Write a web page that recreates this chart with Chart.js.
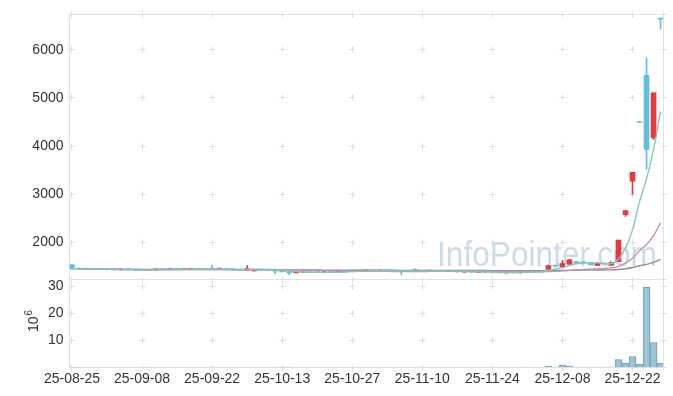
<!DOCTYPE html>
<html><head><meta charset="utf-8">
<script src="https://cdn.jsdelivr.net/npm/chart.js@4/dist/chart.umd.min.js"></script>
<style>html,body{margin:0;padding:0;background:#fff;}#wrap{width:673px;height:396px;}</style>
</head><body><div id="wrap"><canvas id="c" width="673" height="396"></canvas></div>
<script>
const dates = [
'25-08-25','25-08-26','25-08-27','25-08-28','25-08-29',
'25-09-01','25-09-02','25-09-03','25-09-04','25-09-05',
'25-09-08','25-09-09','25-09-10','25-09-11','25-09-12',
'25-09-15','25-09-16','25-09-17','25-09-18','25-09-19',
'25-09-22','25-09-23','25-09-24','25-09-25','25-09-26',
'25-09-29','25-09-30','25-10-01','25-10-02','25-10-10',
'25-10-13','25-10-14','25-10-15','25-10-16','25-10-17',
'25-10-20','25-10-21','25-10-22','25-10-23','25-10-24',
'25-10-27','25-10-28','25-10-29','25-10-30','25-10-31',
'25-11-03','25-11-04','25-11-05','25-11-06','25-11-07',
'25-11-10','25-11-11','25-11-12','25-11-13','25-11-14',
'25-11-17','25-11-18','25-11-19','25-11-20','25-11-21',
'25-11-24','25-11-25','25-11-26','25-11-27','25-11-28',
'25-12-01','25-12-02','25-12-03','25-12-04','25-12-05',
'25-12-08','25-12-09','25-12-10','25-12-11','25-12-12',
'25-12-15','25-12-16','25-12-17','25-12-18','25-12-19',
'25-12-22','25-12-23','25-12-24','25-12-26','25-12-29'];

const opens = [
1525,1448,1440,1436,1432, 1436,1424,1420,1428,1420,
1418,1410,1420,1436,1428, 1432,1430,1434,1438,1434,
1446,1436,1438,1424,1420, 1412,1398,1430,1416,1408,
1396,1384,1360,1366,1380, 1372,1364,1376,1370,1380,
1402,1396,1400,1404,1398, 1408,1402,1398,1390,1430,
1390,1394,1392,1388,1394, 1388,1376,1386,1370,1382,
1368,1364,1358,1366,1364, 1372,1396,1384,1430,1508,
1490,1540,1596,1572,1572, 1512,1548,1520,1594,2570,
3270,4490,5470,4171,6640];
const highs = [
1530,1452,1446,1442,1440, 1438,1430,1432,1432,1426,
1424,1426,1440,1440,1436, 1440,1436,1442,1444,1440,
1518,1442,1440,1430,1424, 1512,1436,1434,1420,1412,
1400,1390,1380,1384,1384, 1376,1382,1380,1400,1396,
1414,1404,1408,1410,1412, 1412,1406,1402,1398,1446,
1404,1402,1400,1398,1398, 1392,1390,1390,1386,1386,
1374,1370,1372,1382,1396, 1400,1400,1390,1522,1512,
1620,1640,1600,1580,1576, 1556,1550,1576,2044,2657,
3454,4490,5837,5109,6640];
const lows = [
1440,1436,1430,1428,1426, 1420,1415,1414,1416,1412,
1408,1406,1416,1424,1420, 1426,1422,1428,1430,1426,
1428,1430,1420,1416,1404, 1408,1394,1412,1404,1345,
1376,1324,1356,1362,1362, 1360,1360,1366,1366,1378,
1390,1390,1394,1396,1394, 1398,1394,1320,1384,1396,
1386,1388,1386,1384,1384, 1376,1372,1370,1366,1364,
1360,1356,1354,1358,1350, 1368,1378,1376,1426,1494,
1486,1536,1552,1566,1524, 1508,1540,1516,1590,2536,
2990,4490,3518,4136,6440];
const closes = [
1448,1440,1436,1432,1436, 1424,1420,1428,1420,1418,
1412,1422,1436,1428,1432, 1430,1434,1438,1434,1430,
1436,1438,1424,1420,1408, 1448,1430,1416,1408,1396,
1384,1360,1374,1380,1366, 1364,1376,1370,1390,1392,
1396,1400,1404,1398,1408, 1402,1398,1390,1394,1402,
1400,1398,1396,1394,1388, 1380,1386,1374,1382,1368,
1364,1360,1366,1370,1372, 1396,1384,1380,1512,1498,
1550,1630,1560,1570,1530, 1552,1544,1572,2044,2657,
3454,4490,3930,5109,6640];
const volumes = [
62000,41000,35000,28000,30000, 26000,33000,29000,24000,22000,
27000,36000,31000,25000,23000, 21000,26000,24000,22000,20000,
58000,30000,26000,24000,28000, 64000,35000,27000,22000,45000,
38000,72000,34000,29000,26000, 24000,30000,23000,41000,27000,
33000,25000,22000,24000,28000, 23000,21000,52000,26000,44000,
30000,27000,25000,24000,22000, 28000,26000,23000,25000,22000,
24000,21000,23000,30000,42000, 55000,31000,28000,360000,70000,
840000,470000,60000,50000,65000, 70000,40000,80000,2900000,1460000,
4000000,1100000,29600000,9200000,1460000];

const dateTickIdx = [0,10,20,30,40,50,60,70,80];
const priceTicks = [2000,3000,4000,5000,6000];
const volumeTicks = [10000000,20000000,30000000];
const maPeriods = [5,20,120];
const maColors = ['#80c8bd','#c690c1','#8e8e8e'];
const upColor = '#e8393b';
const downColor = '#5fc0dc';
const watermarkText = 'InfoPointer.com';
const volumeTitle = ['10','6'];

function movingAverage(arr, n){
  return arr.map((_, i) => {
    const s = Math.max(0, i - n + 1);
    const w = arr.slice(s, i + 1);
    return w.reduce((p, c) => p + c, 0) / w.length;
  });
}
const isUp = i => closes[i] > opens[i];
const candleColor = ctx => isUp(ctx.dataIndex) ? upColor : downColor;

const FONT = "'Liberation Sans', Arial, sans-serif";

const decor = {
  id: 'decor',
  beforeDatasetsDraw(chart){
    const {ctx, chartArea: a, scales} = chart;
    const sx = scales.x, sp = scales.y, sv = scales.yv;
    const f = v => Math.floor(v) + 0.5;
    ctx.save();
    ctx.strokeStyle = '#e2e2e2'; ctx.lineWidth = 1;
    ctx.beginPath();
    ctx.moveTo(f(a.left), f(a.top)); ctx.lineTo(f(a.right), f(a.top));
    ctx.lineTo(f(a.right), f(a.bottom)); ctx.lineTo(f(a.left), f(a.bottom));
    ctx.closePath();
    ctx.moveTo(f(a.left), f(sp.bottom)); ctx.lineTo(f(a.right), f(sp.bottom));
    ctx.stroke();
    const xs = dateTickIdx.map(v => f(sx.getPixelForValue(v))).concat([f(a.right)]);
    const ys = priceTicks.map(v => f(sp.getPixelForValue(v)))
      .concat(volumeTicks.map(v => f(sv.getPixelForValue(v))))
      .concat([f(a.top), f(sp.bottom), f(a.bottom)]);
    ctx.strokeStyle = '#dedede';
    ctx.beginPath();
    xs.forEach(x => ys.forEach(y => {
      ctx.moveTo(x - 3, y); ctx.lineTo(x + 3, y);
      ctx.moveTo(x, y - 3); ctx.lineTo(x, y + 3);
    }));
    ctx.stroke();
    // watermark
    ctx.font = '35px ' + FONT;
    ctx.fillStyle = '#cadce8';
    ctx.textBaseline = 'alphabetic';
    const w = ctx.measureText(watermarkText).width;
    ctx.translate(437, 266);
    ctx.scale(220 / w, 1);
    ctx.fillText(watermarkText, 0, 0);
    ctx.restore();
  },
  afterDraw(chart){
    const ctx = chart.ctx;
    ctx.save();
    ctx.fillStyle = '#333';
    ctx.translate(38, 332);
    ctx.rotate(-Math.PI / 2);
    ctx.textBaseline = 'alphabetic';
    ctx.font = '14px ' + FONT;
    ctx.fillText(volumeTitle[0], 0, 0);
    const w = ctx.measureText(volumeTitle[0]).width;
    ctx.font = '10px ' + FONT;
    ctx.fillText(volumeTitle[1], w + 1, -6);
    ctx.restore();
  }
};

const idx = dates.map((_, i) => i);
const maDatasets = maPeriods.map((n, k) => ({
  type: 'line',
  data: movingAverage(closes, n).map((v, i) => ({x: i, y: v})),
  borderColor: maColors[k], borderWidth: 1.4, pointRadius: 0,
  cubicInterpolationMode: 'monotone', yAxisID: 'y', xAxisID: 'x'
}));

new Chart(document.getElementById('c'), {
  type: 'bar',
  data: {
    datasets: [
      ...maDatasets,
      { type: 'bar', data: idx.map(i => ({x: i, y: [opens[i], closes[i]]})),
        backgroundColor: candleColor, barThickness: 5, minBarLength: 1,
        grouped: false, yAxisID: 'y', borderWidth: 0 },
      { type: 'bar', data: idx.map(i => ({x: i, y: [lows[i], highs[i]]})),
        backgroundColor: candleColor, barThickness: 1, minBarLength: 1,
        grouped: false, yAxisID: 'y', borderWidth: 0 },
      { type: 'bar', data: idx.map(i => ({x: i, y: volumes[i]})),
        backgroundColor: 'rgba(152,194,211,0.95)', borderColor: '#6fa2ba',
        borderWidth: 1, barThickness: 7, grouped: false, yAxisID: 'yv' }
    ]
  },
  options: {
    responsive: false, animation: false, devicePixelRatio: 1,
    layout: { padding: { top: 10, right: 10, left: 0, bottom: 0 } },
    plugins: { legend: { display: false }, tooltip: { enabled: false } },
    scales: {
      x: {
        type: 'linear', position: 'bottom', min: -0.35, max: 84.35, offset: false,
        grid: { display: false, drawTicks: false, offset: false }, border: { display: false },
        afterBuildTicks: s => { s.ticks = dateTickIdx.map(v => ({value: v})); },
        ticks: { autoSkip: false, maxRotation: 0, padding: 3, color: '#333',
          font: { family: FONT, size: 14 }, callback: v => dates[v] },
        afterFit: s => { s.height = 28.7; }
      },
      yv: {
        type: 'linear', position: 'left', stack: 'panel', stackWeight: 1,
        min: 0, max: 32700000, offset: false,
        grid: { display: false, drawTicks: false }, border: { display: false },
        afterBuildTicks: s => { s.ticks = volumeTicks.map(v => ({value: v})); },
        ticks: { padding: 6, color: '#333', font: { family: FONT, size: 14 }, callback: v => String(v / 1000000) },
        afterFit: s => { s.width = 69.5; }
      },
      y: {
        type: 'linear', position: 'left', stack: 'panel', stackWeight: 3,
        min: 1230, max: 6740, offset: false,
        grid: { display: false, drawTicks: false }, border: { display: false },
        afterBuildTicks: s => { s.ticks = priceTicks.map(v => ({value: v})); },
        ticks: { padding: 6, color: '#333', font: { family: FONT, size: 14 }, callback: v => String(v) },
        afterFit: s => { s.width = 69.5; }
      }
    }
  },
  plugins: [decor]
});
</script></body></html>
